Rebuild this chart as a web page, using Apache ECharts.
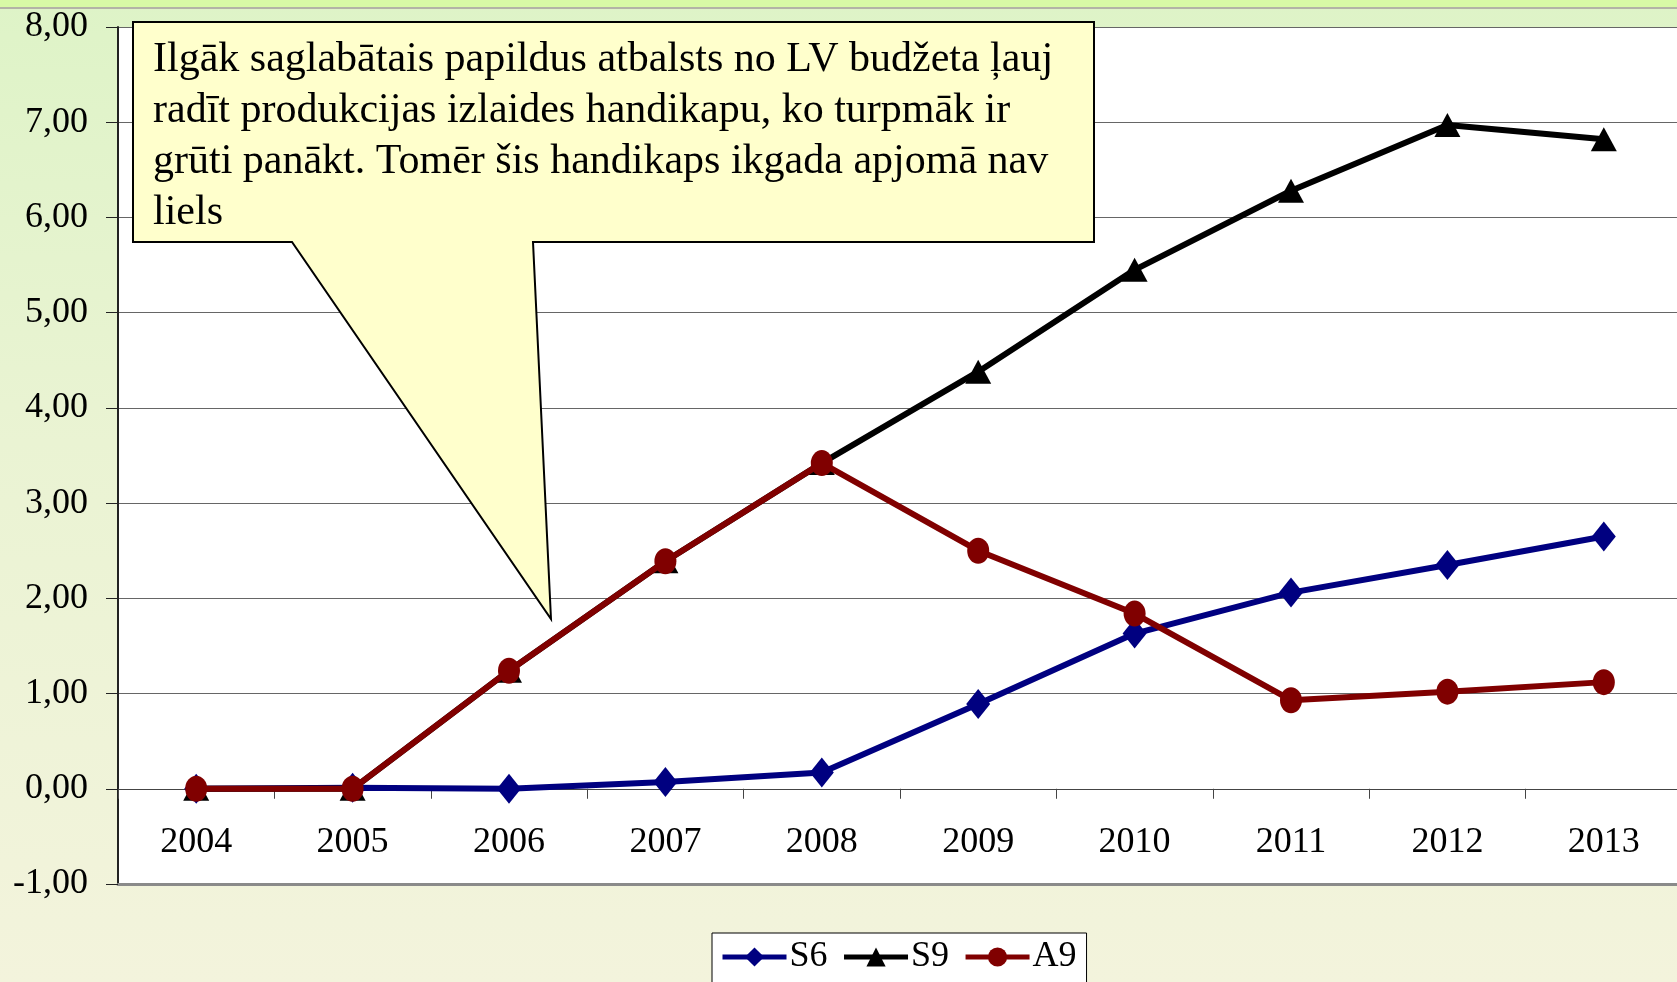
<!DOCTYPE html>
<html>
<head>
<meta charset="utf-8">
<script src="https://cdn.jsdelivr.net/npm/echarts@6/dist/echarts.min.js"></script>
<style>
  html, body { margin: 0; padding: 0; overflow: hidden; }
  body { background: linear-gradient(to bottom, #def3c7 0%, #eaf3d3 45%, #f3f3dc 100%); }
  #chart { width: 1677px; height: 982px; }
</style>
</head>
<body>
<div id="chart"></div>
<script>
// gadi
const years = ['2004', '2005', '2006', '2007', '2008', '2009', '2010', '2011', '2012', '2013']
// sērijas
const s6 = [0, 0.01, 0.0, 0.07, 0.17, 0.89, 1.63, 2.06, 2.35, 2.65]
const s9 = [0, 0, 1.24, 2.39, 3.42, 4.38, 5.45, 6.28, 6.97, 6.82]
const a9 = [0, 0, 1.24, 2.39, 3.42, 2.50, 1.84, 0.93, 1.02, 1.12]
const yMin = -1, yMax = 8, yStep = 1

const calloutText = [
  'Ilgāk saglabātais papildus atbalsts no LV budžeta ļauj',
  'radīt produkcijas izlaides handikapu, ko turpmāk ir',
  'grūti panākt. Tomēr šis handikaps ikgada apjomā nav',
  'liels'
].join('\n')

const serif = '"Liberation Serif", "DejaVu Serif", serif'

// režģa izmēri (px)
const gridTop = 27, gridH = 857
const zeroOffset = gridH * (0 - yMin) / (yMax - yMin)

let myChart = echarts.init(document.getElementById('chart'))

myChart.setOption({
  backgroundColor: 'transparent',
  animation: false,
  grid: {
    left: 118, top: gridTop, width: 1564, height: gridH,
    outerBoundsMode: 'none',
    show: true, backgroundColor: '#fff', borderWidth: 0
  },
  legend: {
    left: 712, top: 933,
    backgroundColor: '#fff', borderColor: '#000', borderWidth: 1,
    padding: [6, 10, 30, 8],
    itemWidth: 64, itemHeight: 24, itemGap: 14,
    lineStyle: { width: 5 },
    textStyle: { fontFamily: serif, fontSize: 36, color: '#000', padding: [0, 0, 0, -2] },
    data: ['S6', 'S9', 'A9']
  },
  xAxis: [
    {
      type: 'category',
      data: years,
      boundaryGap: true,
      position: 'bottom',
      offset: -zeroOffset,
      axisLine: { onZero: false, lineStyle: { color: '#444', width: 1 } },
      axisTick: { show: true, length: 10, lineStyle: { color: '#444' } },
      axisLabel: { fontFamily: serif, fontSize: 36, color: '#000', margin: 36 },
      splitLine: { show: false }
    },
    {
      // apakšējā rāmja līnija pie -1
      type: 'category',
      data: years,
      position: 'bottom',
      axisLine: { onZero: false, lineStyle: { color: '#8a8a8a', width: 3 } },
      axisTick: { show: false },
      axisLabel: { show: false },
      splitLine: { show: false }
    }
  ],
  yAxis: {
    type: 'value',
    min: yMin, max: yMax, interval: yStep,
    axisLine: { show: true, lineStyle: { color: '#222', width: 2 } },
    axisTick: { show: true, length: 12, lineStyle: { color: '#222' } },
    axisLabel: {
      fontFamily: serif, fontSize: 36, color: '#000', margin: 30,
      formatter: v => v.toFixed(2).replace('.', ',')
    },
    splitLine: { show: true, lineStyle: { color: '#666', width: 1 } }
  },
  series: [
    {
      name: 'S6', type: 'line', data: s6,
      symbol: 'diamond', symbolSize: [24, 30],
      lineStyle: { color: '#000080', width: 6 },
      itemStyle: { color: '#000080' },
      z: 2
    },
    {
      name: 'S9', type: 'line', data: s9,
      symbol: 'triangle', symbolSize: [26, 24],
      lineStyle: { color: '#000', width: 6 },
      itemStyle: { color: '#000' },
      z: 3
    },
    {
      name: 'A9', type: 'line', data: a9,
      symbol: 'circle', symbolSize: [22, 26],
      lineStyle: { color: '#800000', width: 6 },
      itemStyle: { color: '#800000' },
      z: 4
    }
  ],
  graphic: [
    // augšējā josla
    { type: 'rect', left: 0, top: 0, shape: { width: 1677, height: 7 }, style: { fill: '#d8f9a6' }, z: 1 },
    { type: 'rect', left: 0, top: 7, shape: { width: 1677, height: 2 }, style: { fill: '#b3b3a6' }, z: 1 },
    // piezīme
    {
      type: 'polygon', z: 100,
      shape: { points: [[133, 22], [1094, 22], [1094, 242], [533, 242], [551, 619], [292, 242], [133, 242]] },
      style: { fill: '#ffffcc', stroke: '#000', lineWidth: 2 }
    },
    {
      type: 'text', left: 153, top: 34, z: 101,
      style: { text: calloutText, font: '42px ' + serif, fill: '#000', lineHeight: 51 }
    }
  ]
})
window.addEventListener('resize', myChart.resize)
</script>
</body>
</html>
